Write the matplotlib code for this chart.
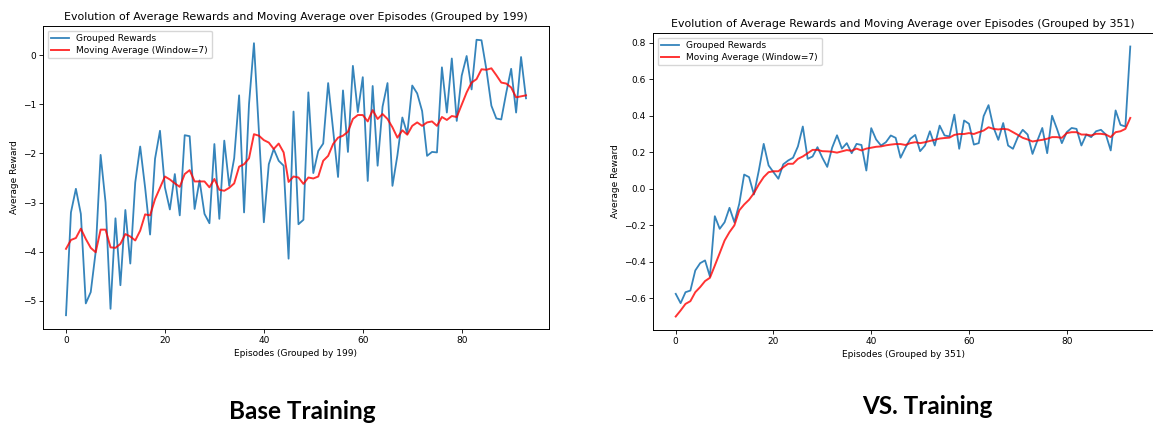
import matplotlib
matplotlib.use('Agg')
import matplotlib.pyplot as plt

base_rewards = [-5.29, -3.20, -2.72, -3.23, -5.05, -4.82, -4.00, -2.03, -3.00, -5.16,
                -3.32, -4.68, -3.15, -4.24, -2.59, -1.86, -2.70, -3.65, -2.11, -1.54,
                -2.69, -3.14, -2.42, -3.26, -1.63, -1.65, -3.13, -2.55, -3.23, -3.42,
                -1.81, -3.33, -1.74, -2.66, -2.10, -0.82, -3.20, -1.00, 0.24, -1.55,
                -3.40, -2.22, -1.91, -2.15, -2.25, -4.14, -1.15, -3.44, -3.35, -0.76,
                -2.40, -1.95, -1.80, -0.57, -1.52, -2.48, -0.72, -1.97, -0.22, -1.16,
                -0.45, -2.56, -0.63, -2.25, -1.05, -0.57, -2.66, -2.04, -1.27, -1.60,
                -0.62, -0.78, -1.14, -2.05, -1.97, -1.98, -0.25, -1.17, -0.07, -1.34,
                -0.42, -0.02, -0.70, 0.31, 0.30, -0.30, -1.03, -1.29, -1.31, -0.77,
                -0.28, -1.17, -0.04, -0.88]
base_moving_avg = [-3.94, -3.76, -3.72, -3.53, -3.74, -3.92, -4.01, -3.55, -3.55, -3.91,
                   -3.92, -3.84, -3.64, -3.69, -3.77, -3.57, -3.24, -3.26, -2.93, -2.70,
                   -2.47, -2.53, -2.61, -2.68, -2.42, -2.34, -2.57, -2.57, -2.57, -2.69,
                   -2.52, -2.74, -2.76, -2.70, -2.61, -2.27, -2.22, -2.10, -1.61, -1.64,
                   -1.73, -1.78, -1.91, -1.80, -1.98, -2.58, -2.47, -2.49, -2.62, -2.49,
                   -2.51, -2.47, -2.15, -2.05, -1.81, -1.68, -1.64, -1.56, -1.30, -1.22,
                   -1.22, -1.35, -1.12, -1.30, -1.20, -1.30, -1.47, -1.68, -1.53, -1.62,
                   -1.44, -1.37, -1.44, -1.37, -1.35, -1.44, -1.26, -1.32, -1.24, -1.26,
                   -1.01, -0.76, -0.56, -0.49, -0.29, -0.30, -0.27, -0.41, -0.56, -0.58,
                   -0.66, -0.86, -0.84, -0.82]

vs_rewards = [-0.575, -0.626, -0.566, -0.557, -0.447, -0.407, -0.392, -0.48, -0.15, -0.219,
              -0.183, -0.104, -0.183, -0.082, 0.078, 0.064, -0.031, 0.10, 0.246, 0.128,
              0.091, 0.055, 0.134, 0.155, 0.17, 0.232, 0.341, 0.164, 0.177, 0.228,
              0.17, 0.12, 0.225, 0.293, 0.22, 0.25, 0.195, 0.246, 0.24, 0.10,
              0.332, 0.27, 0.237, 0.255, 0.292, 0.279, 0.17, 0.225, 0.274, 0.295,
              0.206, 0.237, 0.315, 0.237, 0.346, 0.292, 0.287, 0.406, 0.219, 0.374,
              0.356, 0.242, 0.25, 0.398, 0.458, 0.337, 0.268, 0.36, 0.237, 0.219,
              0.283, 0.323, 0.297, 0.191, 0.264, 0.333, 0.195, 0.40, 0.328, 0.25,
              0.31, 0.333, 0.328, 0.237, 0.297, 0.283, 0.315, 0.323, 0.297, 0.21,
              0.429, 0.35, 0.341, 0.779]
vs_moving_avg = [-0.699, -0.666, -0.63, -0.615, -0.566, -0.538, -0.505, -0.487, -0.42, -0.352,
                 -0.283, -0.237, -0.2, -0.118, -0.086, -0.06, -0.024, 0.024, 0.064, 0.091,
                 0.096, 0.096, 0.118, 0.137, 0.137, 0.164, 0.177, 0.195, 0.213, 0.213,
                 0.206, 0.205, 0.203, 0.198, 0.205, 0.212, 0.208, 0.22, 0.21, 0.22,
                 0.225, 0.23, 0.232, 0.238, 0.242, 0.245, 0.245, 0.24, 0.25, 0.255,
                 0.25, 0.255, 0.262, 0.268, 0.275, 0.278, 0.28, 0.295, 0.30, 0.30,
                 0.305, 0.30, 0.31, 0.319, 0.337, 0.328, 0.325, 0.328, 0.325, 0.31,
                 0.295, 0.279, 0.27, 0.259, 0.264, 0.268, 0.274, 0.283, 0.283, 0.279,
                 0.305, 0.31, 0.31, 0.297, 0.297, 0.292, 0.301, 0.301, 0.297, 0.283,
                 0.31, 0.315, 0.328, 0.388]

panels = [
    (base_rewards, base_moving_avg, 199, 'Base Training'),
    (vs_rewards, vs_moving_avg, 351, 'VS. Training'),
]

W, H = 1153, 423
fig = plt.figure(figsize=(W / 100, H / 100), dpi=100)


def px_axes(x0, y0, x1, y1):
    return fig.add_axes([x0 / W, 1 - y1 / H, (x1 - x0) / W, (y1 - y0) / H])


boxes = [(43, 26, 549, 329), (653, 33, 1153, 330)]
caption_pos = [(302, 411), (927, 406)]

for (rewards, moving, group, caption), box, (cx, cy) in zip(panels, boxes, caption_pos):
    ax = px_axes(*box)
    episodes = range(len(rewards))
    ax.plot(episodes, rewards, color='#1f77b4', lw=1.3, alpha=0.9, label='Grouped Rewards')
    ax.plot(episodes, moving, color='red', lw=1.4, alpha=0.8, label='Moving Average (Window=7)')
    ax.set_title(f'Evolution of Average Rewards and Moving Average over Episodes (Grouped by {group})',
                 fontsize=7.9, pad=4)
    ax.set_xlabel(f'Episodes (Grouped by {group})', fontsize=6.5, labelpad=3)
    ax.set_ylabel('Average Reward', fontsize=6.5, labelpad=3)
    ax.set_xticks([0, 20, 40, 60, 80])
    ax.tick_params(labelsize=6.5, length=3, width=0.6, pad=2)
    for s in ax.spines.values():
        s.set_linewidth(0.7)
    ax.legend(loc='upper left', fontsize=6.5, handlelength=2.0, borderpad=0.4, labelspacing=0.3)
    fig.text(cx / W, 1 - cy / H, caption, ha='center', va='center',
             fontsize=17.5, fontweight='bold', family=['Lato', 'DejaVu Sans'])

fig.savefig('out.png', dpi=100)
